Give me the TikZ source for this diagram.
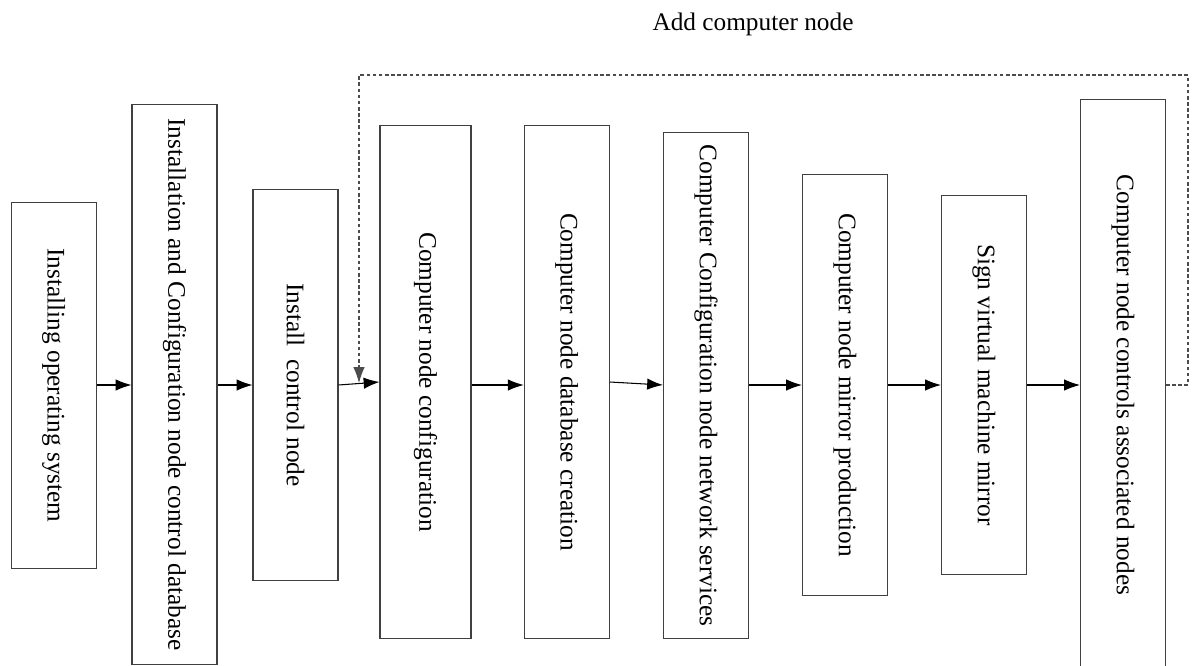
\documentclass[tikz,border=0pt]{standalone}
\usepackage{fontspec}
\setmainfont{Liberation Serif}
\usetikzlibrary{arrows.meta}

\begin{document}
\begin{tikzpicture}[x=0.02cm,y=-0.02cm]
      \useasboundingbox(0,0) rectangle (1194,666);
      \tikzset{B/.style = {shape=rectangle, draw=black!75, line width=0.6pt, minimum width=1.7cm, inner sep=0pt, text=black, font=\fontsize{14.4}{17}\selectfont}}
      \tikzset{E/.style = {draw, line width=0.6pt, -{Latex[length=9pt,width=6.5pt]}}}
      \tikzset{D/.style = {draw=black!70, line width=0.6pt, dash pattern=on 2pt off 1.5pt, -{Latex[length=9pt,width=6.5pt]}}}
      \node[B,minimum height=7.34cm](s0) at (53.75,385.5) {\rotatebox{-90}{Installing operating system}};
      \node[B,minimum height=11.22cm](s1) at (174.5,384.5) {\rotatebox{-90}{Installation and Configuration node control database}};
      \node[B,minimum height=7.84cm](s2) at (295.5,385) {\rotatebox{-90}{Install\ \ control node}};
      \node[B,minimum height=10.28cm,minimum width=1.82cm](s3) at (425.5,382) {\rotatebox{-90}{Computer node configuration}};
      \node[B,minimum height=10.28cm](s4) at (566.75,382) {\rotatebox{-90}{Computer node database creation}};
      \node[B,minimum height=10.14cm](s5) at (706,385.5) {\rotatebox{-90}{Computer Configuration node network services}};
      \node[B,minimum height=8.44cm](s6) at (845,385) {\rotatebox{-90}{Computer node mirror production}};
      \node[B,minimum height=7.6cm](s7) at (984,385) {\rotatebox{-90}{Sign virtual machine mirror}};
      \node[B,minimum height=11.44cm](s8) at (1123,385) {\rotatebox{-90}{Computer node controls associated nodes}};
      \node[font=\fontsize{14.4}{17}\selectfont](add) at (753,24) {Add computer node};
      \coordinate (f) at (0,385);
      \coordinate (fl) at (0,382);
      \coordinate (loop) at (1188,75);
      \coordinate (join) at (359,383);
      \draw[E](s0.east |- f) to (s1.west |- f);
      \draw[E](s1.east |- f) to (s2.west |- f);
      \draw[E](s2.east |- f) to (s3.west |- fl);
      \draw[E](s3.east |- f) to (s4.west |- f);
      \draw[E](s4.east |- fl) to (s5.west |- f);
      \draw[E](s5.east |- f) to (s6.west |- f);
      \draw[E](s6.east |- f) to (s7.west |- f);
      \draw[E](s7.east |- f) to (s8.west |- f);
      \draw[D](s8.east |- f) -| (loop) -| (join);
    \end{tikzpicture}
\end{document}
